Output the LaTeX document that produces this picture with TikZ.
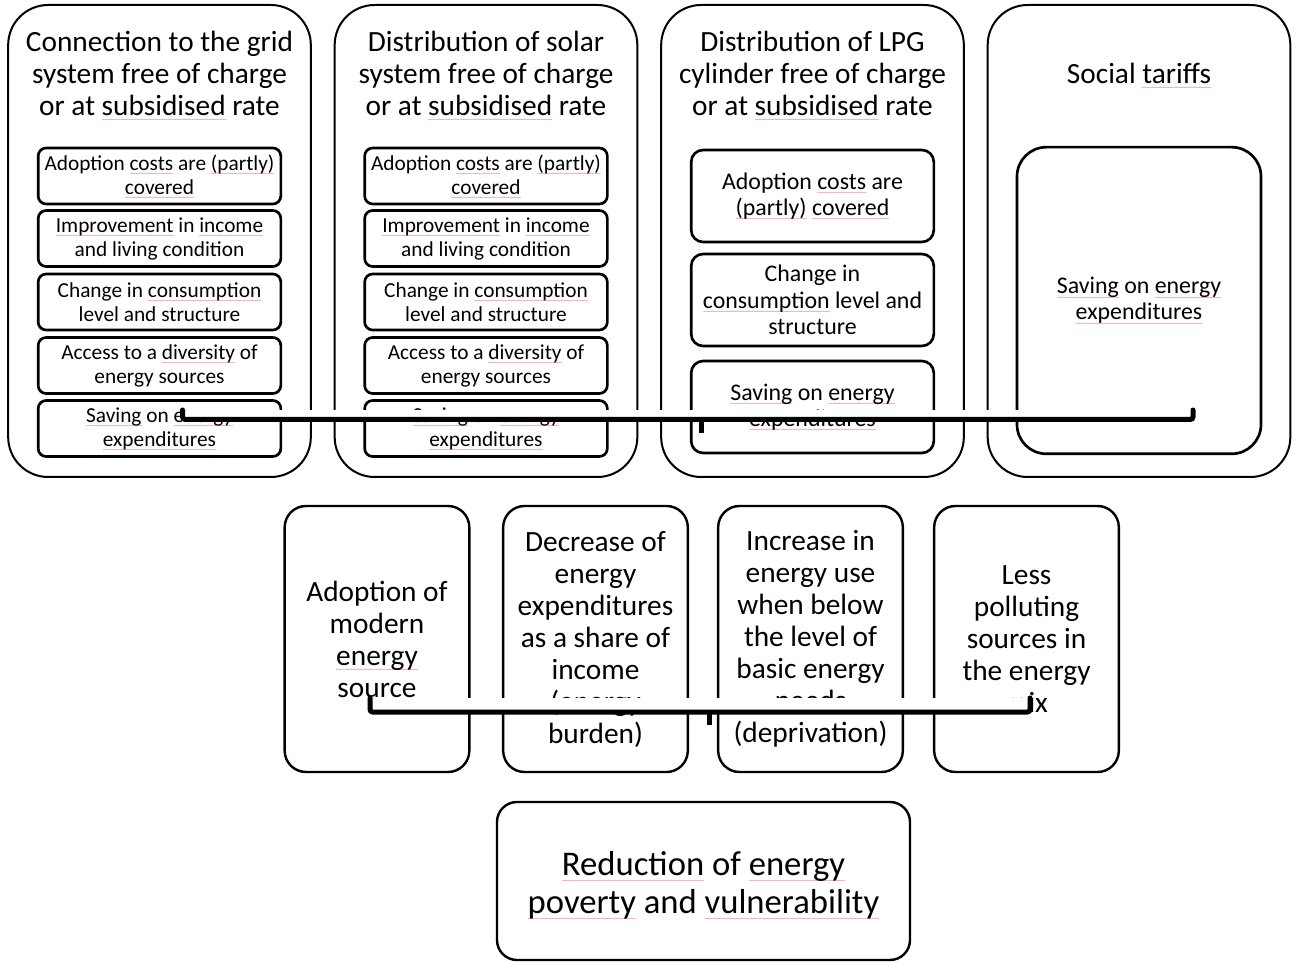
\documentclass[tikz,border=0pt]{standalone}
\usepackage{fontspec}
\setmainfont{Carlito}
\usepackage{xcolor}
\usepackage{tikz}
\usetikzlibrary{calc}
\newlength{\sqw}
\newcommand{\sq}[1]{\settowidth{\sqw}{#1}\rlap{\textcolor{red!30}{\rule[-0.3ex]{\sqw}{0.4pt}}}#1}
\tikzset{
  outerbox/.style={draw, line width=1.5pt, rounded corners=30pt, minimum width=227pt, minimum height=354pt, inner sep=0pt},
  title/.style={align=center, inner sep=0pt, font=\fontsize{22}{24}\selectfont},
  smallbox/.style={draw, line width=2pt, rounded corners=6pt, minimum width=182pt, minimum height=42pt, inner sep=0pt, align=center, font=\fontsize{16}{18}\selectfont},
  midbox/.style={draw, line width=2pt, rounded corners=9pt, minimum width=182pt, minimum height=69pt, inner sep=0pt, align=center, font=\fontsize{17.9}{19.7}\selectfont},
  effect/.style={draw, line width=1.8pt, rounded corners=16pt, minimum width=138.5pt, minimum height=199.5pt, inner sep=0pt, align=center, font=\fontsize{22}{24}\selectfont},
  brace/.style={line width=3.75pt, line cap=round, rounded corners=2pt},
  bracetip/.style={line width=3.75pt}
}

\begin{document}
\begin{tikzpicture}[x=0.75pt, y=-0.75pt]
\useasboundingbox (0,0) rectangle (1300,962);

% measures
\node[outerbox] (grid) at (159.5,241) {};
\node[outerbox] (solar) at (486,241) {};
\node[outerbox] (lpg) at (812.5,241) {};
\node[outerbox] (tariff) at (1139,241) {};

\node[title] (gridT) at (159.5,75) {Connection to the grid\\system free of charge\\or at \sq{subsidised} rate};
\node[title] (solarT) at (486,75) {Distribution of solar\\system free of charge\\or at \sq{subsidised} rate};
\node[title] (lpgT) at (812.5,75) {Distribution of LPG\\cylinder free of charge\\or at \sq{subsidised} rate};
\node[title] (tariffT) at (1139,75) {Social \sq{tariffs}};

% channels
\node[smallbox] (grid1) at (159.5,176) {Adoption \sq{costs} are \sq{(partly)}\\\sq{covered}};
\node[smallbox] (grid2) at (159.5,238.5) {\sq{Improvement} in \sq{income}\\and living condition};
\node[smallbox] (grid3) at (159.5,302) {Change in \sq{consumption}\\level and structure};
\node[smallbox] (grid4) at (159.5,365.5) {Access to a \sq{diversity} of\\energy sources};
\node[smallbox] (grid5) at (159.5,428.5) {\sq{Saving} on \sq{energy}\\\sq{expenditures}};

\node[smallbox] (solar1) at (486,176) {Adoption \sq{costs} are \sq{(partly)}\\\sq{covered}};
\node[smallbox] (solar2) at (486,238.5) {\sq{Improvement} in \sq{income}\\and living condition};
\node[smallbox] (solar3) at (486,302) {Change in \sq{consumption}\\level and structure};
\node[smallbox] (solar4) at (486,365.5) {Access to a \sq{diversity} of\\energy sources};
\node[smallbox] (solar5) at (486,428.5) {\sq{Saving} on \sq{energy}\\\sq{expenditures}};

\node[midbox] (lpg1) at (812.5,196) {Adoption \sq{costs} are\\\sq{(partly)} \sq{covered}};
\node[midbox] (lpg2) at (812.5,300) {Change in\\\sq{consumption} level and\\structure};
\node[midbox] (lpg3) at (812.5,407) {\sq{Saving} on \sq{energy}\\\sq{expenditures}};

\node[midbox, rounded corners=22pt, minimum width=183pt, minimum height=230pt] (tariff1) at (1139,300.5) {\sq{Saving} on \sq{energy}\\\sq{expenditures}};

% outcomes
\node[effect] (adopt) at (377,639) {Adoption of\\modern\\\sq{energy}\\source};
\node[effect] (share) at (595.5,639) {Decrease of\\energy\\expenditures\\as a share of\\income\\(energy\\burden)};
\node[effect] (basic) at (810.5,639) {Increase in\\energy use\\when below\\the level of\\basic energy\\needs\\(deprivation)};
\node[effect] (clean) at (1026.5,639) {Less\\polluting\\sources in\\the energy\\mix};

\node[draw, line width=1.8pt, rounded corners=15pt, minimum width=309.75pt, minimum height=118.5pt, inner sep=0pt, align=center, font=\fontsize{26}{28.5}\selectfont] (poverty) at (703.5,881) {};
\node[align=center, inner sep=0pt, font=\fontsize{26}{28.5}\selectfont] (povertyT) at (703.5,885) {\sq{Reduction} of \sq{energy}\\\sq{poverty} and \sq{vulnerability}};

% braces
\coordinate (b1L) at (182.5,410);
\coordinate (b1R) at (1193,410);
\coordinate (b1M) at (701.5,419.5);
\fill[white] (b1L) rectangle (b1R |- b1M);
\draw[brace] (b1L) |- (b1M) -| (b1R);
\draw[bracetip] (b1M) -- ++(0,14);

\coordinate (b2L) at (370,698);
\coordinate (b2R) at (1030,698);
\coordinate (b2M) at (709.5,712);
\fill[white] (b2L) rectangle (b2R |- b2M);
\draw[brace] (b2L) |- (b2M) -| (b2R);
\draw[bracetip] (b2M) -- ++(0,13);
\end{tikzpicture}
\end{document}
